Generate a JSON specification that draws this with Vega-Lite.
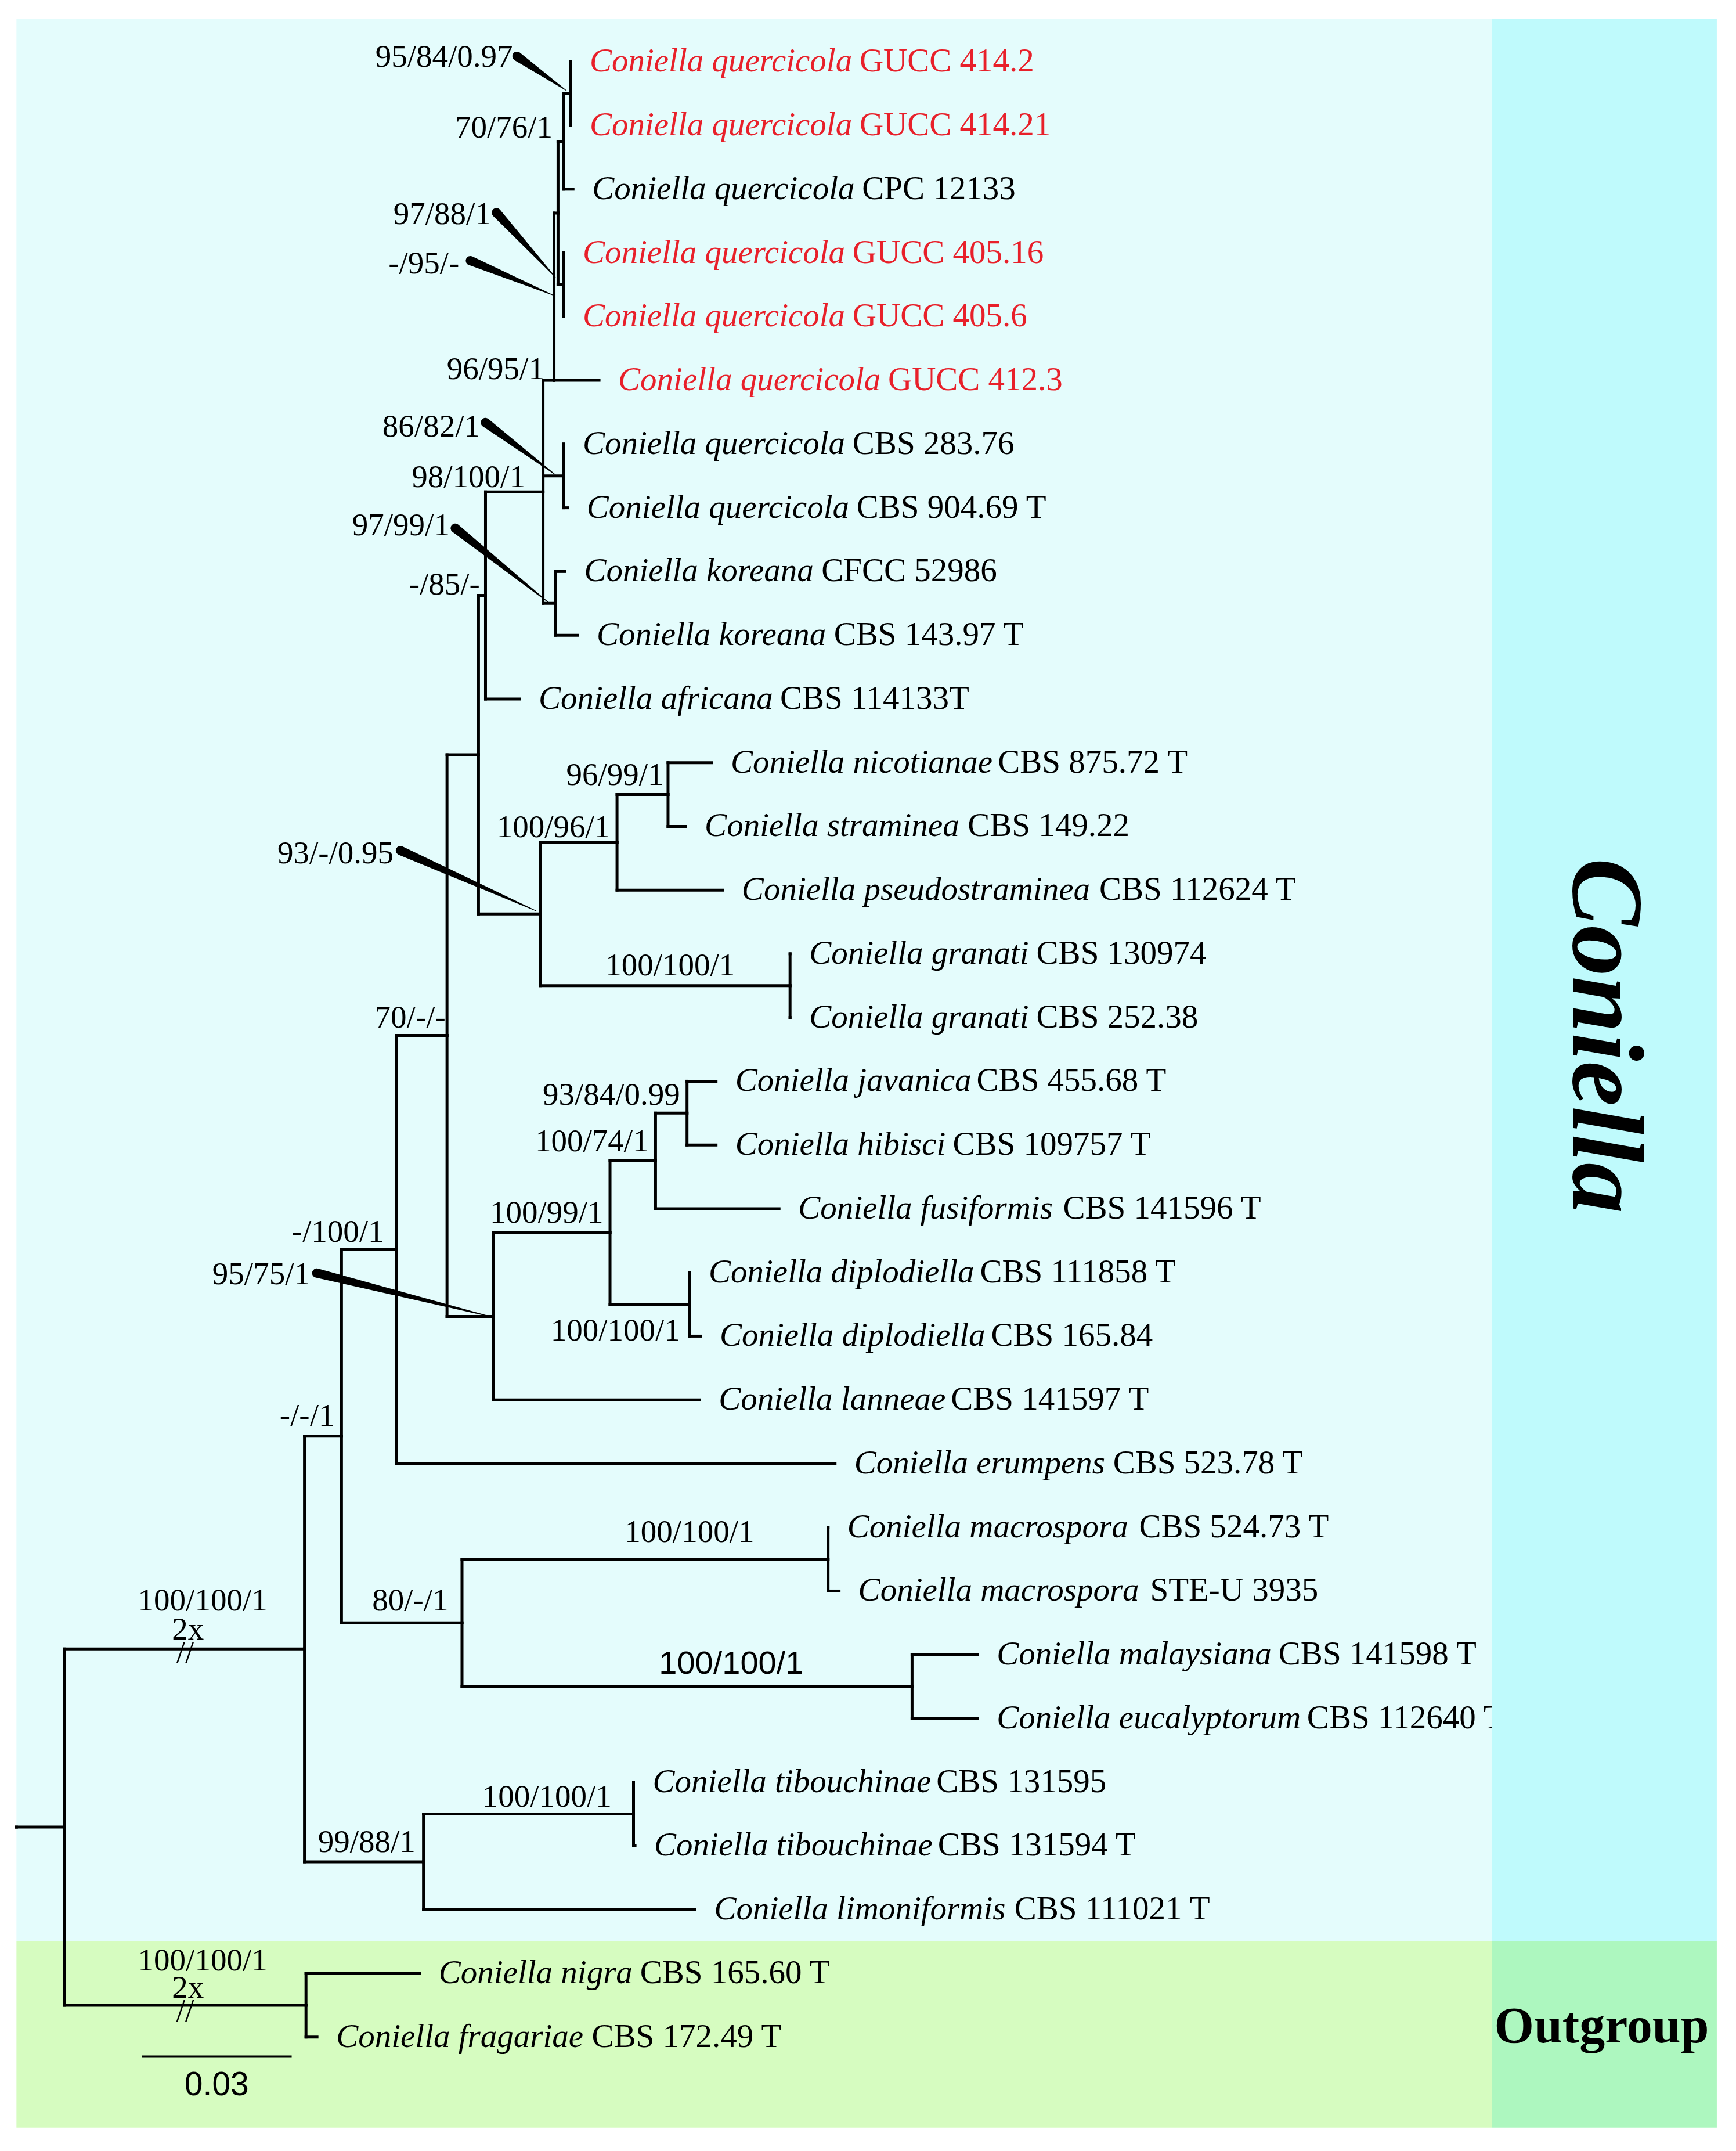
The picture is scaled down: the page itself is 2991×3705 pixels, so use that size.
{
  "$schema": "https://vega.github.io/schema/vega-lite/v6.json",
  "width": 2991,
  "height": 3705,
  "autosize": {"type": "fit", "contains": "padding"},
  "padding": 0,
  "background": "white",
  "config": {"view": {"stroke": null}},
  "datasets": {
    "regions": [
      {"region": "Coniella", "part": "main", "x": 0, "x2": 0.29506, "y": 0.3326, "y2": 30.494},
      {"region": "Coniella", "part": "strip", "x": 0.29506, "x2": 0.34003, "y": 0.3326, "y2": 30.494},
      {"region": "Outgroup", "part": "main", "x": 0, "x2": 0.29506, "y": 30.494, "y2": 33.422},
      {"region": "Outgroup", "part": "strip", "x": 0.29506, "x2": 0.34003, "y": 30.494, "y2": 33.422}
    ],
    "nodes": [
      {"id": "base", "parent": null, "x": 0, "y": 28.705},
      {"id": "root", "parent": "base", "x": 0.0096, "y": 28.705},
      {"id": "Z", "parent": "root", "x": 0.0576, "y": 25.91},
      {"id": "OG", "parent": "root", "x": 0.0579, "y": 31.5},
      {"id": "t31", "parent": "OG", "x": 0.0806, "y": 31, "species": "Coniella nigra", "strain": "CBS 165.60 T", "study": "ref"},
      {"id": "t32", "parent": "OG", "x": 0.0601, "y": 32, "species": "Coniella fragariae", "strain": "CBS 172.49 T", "study": "ref"},
      {"id": "V", "parent": "Z", "x": 0.065, "y": 22.57},
      {"id": "AA", "parent": "Z", "x": 0.0814, "y": 29.25},
      {"id": "AB", "parent": "AA", "x": 0.1234, "y": 28.5},
      {"id": "t28", "parent": "AB", "x": 0.1234, "y": 28, "species": "Coniella tibouchinae", "strain": "CBS 131595", "study": "ref"},
      {"id": "t29", "parent": "AB", "x": 0.1237, "y": 29, "species": "Coniella tibouchinae", "strain": "CBS 131594 T", "study": "ref"},
      {"id": "t30", "parent": "AA", "x": 0.1357, "y": 30, "species": "Coniella limoniformis", "strain": "CBS 111021 T", "study": "ref"},
      {"id": "Q", "parent": "V", "x": 0.076, "y": 19.64},
      {"id": "W", "parent": "V", "x": 0.0891, "y": 25.5},
      {"id": "X", "parent": "W", "x": 0.1623, "y": 24.5},
      {"id": "t24", "parent": "X", "x": 0.1623, "y": 24, "species": "Coniella macrospora", "strain": "CBS 524.73 T", "study": "ref"},
      {"id": "t25", "parent": "X", "x": 0.1645, "y": 25, "species": "Coniella macrospora", "strain": "STE-U 3935", "study": "ref"},
      {"id": "Y", "parent": "W", "x": 0.1791, "y": 26.5},
      {"id": "t26", "parent": "Y", "x": 0.1922, "y": 26, "species": "Coniella malaysiana", "strain": "CBS 141598 T", "study": "ref"},
      {"id": "t27", "parent": "Y", "x": 0.1922, "y": 27, "species": "Coniella eucalyptorum", "strain": "CBS 112640 T", "study": "ref"},
      {"id": "O", "parent": "Q", "x": 0.0861, "y": 16.28},
      {"id": "t23", "parent": "Q", "x": 0.1637, "y": 23, "species": "Coniella erumpens", "strain": "CBS 523.78 T", "study": "ref"},
      {"id": "J", "parent": "O", "x": 0.0924, "y": 11.875},
      {"id": "P", "parent": "O", "x": 0.0954, "y": 20.69},
      {"id": "R2", "parent": "P", "x": 0.1187, "y": 19.375},
      {"id": "t22", "parent": "P", "x": 0.1366, "y": 22, "species": "Coniella lanneae", "strain": "CBS 141597 T", "study": "ref"},
      {"id": "S", "parent": "R2", "x": 0.1278, "y": 18.25},
      {"id": "T", "parent": "R2", "x": 0.1346, "y": 20.5},
      {"id": "U", "parent": "S", "x": 0.1341, "y": 17.5},
      {"id": "t17", "parent": "U", "x": 0.1399, "y": 17, "species": "Coniella javanica", "strain": "CBS 455.68 T", "study": "ref"},
      {"id": "t18", "parent": "U", "x": 0.1399, "y": 18, "species": "Coniella hibisci", "strain": "CBS 109757 T", "study": "ref"},
      {"id": "t19", "parent": "S", "x": 0.1525, "y": 19, "species": "Coniella fusiformis", "strain": "CBS 141596 T", "study": "ref"},
      {"id": "t20", "parent": "T", "x": 0.1346, "y": 20, "species": "Coniella diplodiella", "strain": "CBS 111858 T", "study": "ref"},
      {"id": "t21", "parent": "T", "x": 0.1368, "y": 21, "species": "Coniella diplodiella", "strain": "CBS 165.84", "study": "ref"},
      {"id": "I", "parent": "J", "x": 0.0938, "y": 9.375},
      {"id": "K", "parent": "J", "x": 0.1048, "y": 14.375},
      {"id": "L", "parent": "K", "x": 0.1201, "y": 13.25},
      {"id": "M", "parent": "K", "x": 0.1547, "y": 15.5},
      {"id": "N", "parent": "L", "x": 0.1303, "y": 12.5},
      {"id": "t12", "parent": "N", "x": 0.139, "y": 12, "species": "Coniella nicotianae", "strain": "CBS 875.72 T", "study": "ref"},
      {"id": "t13", "parent": "N", "x": 0.1338, "y": 13, "species": "Coniella straminea", "strain": "CBS 149.22", "study": "ref"},
      {"id": "t14", "parent": "L", "x": 0.1412, "y": 14, "species": "Coniella pseudostraminea", "strain": "CBS 112624 T", "study": "ref"},
      {"id": "t15", "parent": "M", "x": 0.1547, "y": 15, "species": "Coniella granati", "strain": "CBS 130974", "study": "ref"},
      {"id": "t16", "parent": "M", "x": 0.1547, "y": 16, "species": "Coniella granati", "strain": "CBS 252.38", "study": "ref"},
      {"id": "H", "parent": "I", "x": 0.1053, "y": 7.75},
      {"id": "t11", "parent": "I", "x": 0.1006, "y": 11, "species": "Coniella africana", "strain": "CBS 114133T", "study": "ref"},
      {"id": "E", "parent": "H", "x": 0.1075, "y": 6},
      {"id": "F", "parent": "H", "x": 0.1094, "y": 7.5},
      {"id": "G", "parent": "H", "x": 0.1078, "y": 9.5},
      {"id": "D", "parent": "E", "x": 0.1083, "y": 3.375},
      {"id": "t6", "parent": "E", "x": 0.1165, "y": 6, "species": "Coniella quercicola", "strain": "GUCC 412.3", "study": "this"},
      {"id": "B", "parent": "D", "x": 0.1094, "y": 2.25},
      {"id": "C", "parent": "D", "x": 0.1094, "y": 4.5},
      {"id": "A", "parent": "B", "x": 0.1108, "y": 1.5},
      {"id": "t1", "parent": "A", "x": 0.1108, "y": 1, "species": "Coniella quercicola", "strain": "GUCC 414.2", "study": "this"},
      {"id": "t2", "parent": "A", "x": 0.1108, "y": 2, "species": "Coniella quercicola", "strain": "GUCC 414.21", "study": "this"},
      {"id": "t3", "parent": "B", "x": 0.1113, "y": 3, "species": "Coniella quercicola", "strain": "CPC 12133", "study": "ref"},
      {"id": "t4", "parent": "C", "x": 0.1094, "y": 4, "species": "Coniella quercicola", "strain": "GUCC 405.16", "study": "this"},
      {"id": "t5", "parent": "C", "x": 0.1094, "y": 5, "species": "Coniella quercicola", "strain": "GUCC 405.6", "study": "this"},
      {"id": "t7", "parent": "F", "x": 0.1094, "y": 7, "species": "Coniella quercicola", "strain": "CBS 283.76", "study": "ref"},
      {"id": "t8", "parent": "F", "x": 0.1102, "y": 8, "species": "Coniella quercicola", "strain": "CBS 904.69 T", "study": "ref"},
      {"id": "t9", "parent": "G", "x": 0.1097, "y": 9, "species": "Coniella koreana", "strain": "CFCC 52986", "study": "ref"},
      {"id": "t10", "parent": "G", "x": 0.1122, "y": 10, "species": "Coniella koreana", "strain": "CBS 143.97 T", "study": "ref"}
    ],
    "support": [
      {"t": "95/84/0.97", "x": 0.09927, "y": 0.925},
      {"t": "70/76/1", "x": 0.10722, "y": 2.033},
      {"t": "97/88/1", "x": 0.09488, "y": 3.39},
      {"t": "-/95/-", "x": 0.08857, "y": 4.165},
      {"t": "96/95/1", "x": 0.10557, "y": 5.822},
      {"t": "86/82/1", "x": 0.09269, "y": 6.727},
      {"t": "98/100/1", "x": 0.10174, "y": 7.523},
      {"t": "97/99/1", "x": 0.08665, "y": 8.277},
      {"t": "-/85/-", "x": 0.09269, "y": 9.202},
      {"t": "96/99/1", "x": 0.12943, "y": 12.195},
      {"t": "100/96/1", "x": 0.11874, "y": 13.013},
      {"t": "93/-/0.95", "x": 0.07541, "y": 13.422},
      {"t": "100/100/1", "x": 0.14369, "y": 15.187},
      {"t": "70/-/-", "x": 0.08583, "y": 16.006},
      {"t": "93/84/0.99", "x": 0.13272, "y": 17.211},
      {"t": "100/74/1", "x": 0.12642, "y": 17.943},
      {"t": "100/99/1", "x": 0.11737, "y": 19.063},
      {"t": "-/100/1", "x": 0.07349, "y": 19.364},
      {"t": "95/75/1", "x": 0.05868, "y": 20.031},
      {"t": "100/100/1", "x": 0.13272, "y": 20.914},
      {"t": "-/-/1", "x": 0.06362, "y": 22.249},
      {"t": "100/100/1", "x": 0.14753, "y": 24.079},
      {"t": "80/-/1", "x": 0.08638, "y": 25.155},
      {"t": "100/100/1", "x": 0.11901, "y": 28.233},
      {"t": "99/88/1", "x": 0.0798, "y": 28.944},
      {"t": "100/100/1", "x": 0.05018, "y": 25.155},
      {"t": "100/100/1", "x": 0.05018, "y": 30.795}
    ],
    "wedges": [
      {"w": 1, "end": 0, "x": 0.10009, "y": 0.914}, {"w": 1, "end": 1, "x": 0.10996, "y": 1.452},
      {"w": 2, "end": 0, "x": 0.09598, "y": 3.368}, {"w": 2, "end": 1, "x": 0.10777, "y": 4.38},
      {"w": 3, "end": 0, "x": 0.09077, "y": 4.122}, {"w": 3, "end": 1, "x": 0.10722, "y": 4.66},
      {"w": 4, "end": 0, "x": 0.09378, "y": 6.662}, {"w": 4, "end": 1, "x": 0.10777, "y": 7.48},
      {"w": 5, "end": 0, "x": 0.08775, "y": 8.32}, {"w": 5, "end": 1, "x": 0.10667, "y": 9.504},
      {"w": 6, "end": 0, "x": 0.07678, "y": 13.379}, {"w": 6, "end": 1, "x": 0.10393, "y": 14.326},
      {"w": 7, "end": 0, "x": 0.06005, "y": 20.01}, {"w": 7, "end": 1, "x": 0.09515, "y": 20.699}
    ]
  },
  "layer": [
    {
      "data": {"name": "regions"},
      "transform": [{"filter": "datum.part == 'main'"}],
      "mark": {"type": "rect"},
      "encoding": {
        "x": {"field": "x", "type": "quantitative", "scale": {"domain": [-0.00329, 0.34387], "nice": false, "zero": false}, "axis": null},
        "x2": {"field": "x2"},
        "y": {"field": "y", "type": "quantitative", "scale": {"domain": [0.03122, 33.788], "reverse": true, "nice": false, "zero": false}, "axis": null},
        "y2": {"field": "y2"},
        "color": {"field": "region", "type": "nominal", "scale": {"domain": ["Coniella", "Outgroup"], "range": ["#E4FCFC", "#D6FCC0"]}, "legend": null}
      }
    },
    {
      "data": {"name": "nodes"},
      "transform": [
        {"filter": "datum.parent != null"},
        {"lookup": "parent", "from": {"data": {"name": "nodes"}, "key": "id", "fields": ["x", "y"]}, "as": ["px", "py"]}
      ],
      "mark": {"type": "rule", "color": "black", "strokeWidth": 5, "strokeCap": "square"},
      "encoding": {
        "x": {"field": "px", "type": "quantitative", "scale": {"domain": [-0.00329, 0.34387], "nice": false, "zero": false}, "axis": null},
        "x2": {"field": "x"},
        "y": {"field": "y", "type": "quantitative", "scale": {"domain": [0.03122, 33.788], "reverse": true, "nice": false, "zero": false}, "axis": null}
      }
    },
    {
      "data": {"name": "nodes"},
      "transform": [
        {"filter": "datum.parent != null"},
        {"lookup": "parent", "from": {"data": {"name": "nodes"}, "key": "id", "fields": ["x", "y"]}, "as": ["px", "py"]}
      ],
      "mark": {"type": "rule", "color": "black", "strokeWidth": 5, "strokeCap": "square"},
      "encoding": {
        "x": {"field": "px", "type": "quantitative", "scale": {"domain": [-0.00329, 0.34387], "nice": false, "zero": false}, "axis": null},
        "y": {"field": "py", "type": "quantitative", "scale": {"domain": [0.03122, 33.788], "reverse": true, "nice": false, "zero": false}, "axis": null},
        "y2": {"field": "y"}
      }
    },
    {
      "data": {"name": "wedges"},
      "mark": {"type": "trail", "color": "black"},
      "encoding": {
        "x": {"field": "x", "type": "quantitative", "scale": {"domain": [-0.00329, 0.34387], "nice": false, "zero": false}, "axis": null},
        "y": {"field": "y", "type": "quantitative", "scale": {"domain": [0.03122, 33.788], "reverse": true, "nice": false, "zero": false}, "axis": null},
        "detail": {"field": "w", "type": "nominal"},
        "order": {"field": "end", "type": "quantitative"},
        "size": {"field": "end", "type": "quantitative", "scale": {"domain": [0, 1], "range": [16, 1]}, "legend": null}
      }
    },
    {
      "data": {"name": "nodes"},
      "transform": [{"filter": "isValid(datum.species)"}],
      "mark": {"type": "text", "align": "left", "baseline": "middle", "dx": 33, "font": "Liberation Serif", "fontStyle": "italic", "fontSize": 57},
      "encoding": {
        "x": {"field": "x", "type": "quantitative", "scale": {"domain": [-0.00329, 0.34387], "nice": false, "zero": false}, "axis": null},
        "y": {"field": "y", "type": "quantitative", "scale": {"domain": [0.03122, 33.788], "reverse": true, "nice": false, "zero": false}, "axis": null},
        "text": {"field": "species"},
        "color": {"condition": {"test": "datum.study == 'this'", "value": "#E8202A"}, "value": "black"}
      }
    },
    {
      "data": {"name": "nodes"},
      "transform": [
        {"filter": "isValid(datum.species)"},
        {"calculate": "0.5*length(datum.species) - 0.222*(length(datum.species)-length(replace(datum.species, regexp('[iljtf]','g'), ''))) - 0.07*(length(datum.species)-length(replace(datum.species, regexp('[ecksvxyzr]','g'), ''))) - 0.25*(length(datum.species)-length(replace(datum.species, regexp(' ','g'), ''))) + 0.222*(length(datum.species)-length(replace(datum.species, regexp('m','g'), ''))) + 0.167*(length(datum.species)-length(replace(datum.species, regexp('[Cw]','g'), '')))", "as": "wem"},
        {"calculate": "datum.x + (datum.wem + 0.2) * 57 / 8615.7", "as": "sx"}
      ],
      "mark": {"type": "text", "align": "left", "baseline": "middle", "dx": 33, "font": "Liberation Serif", "fontSize": 57},
      "encoding": {
        "x": {"field": "sx", "type": "quantitative", "scale": {"domain": [-0.00329, 0.34387], "nice": false, "zero": false}, "axis": null},
        "y": {"field": "y", "type": "quantitative", "scale": {"domain": [0.03122, 33.788], "reverse": true, "nice": false, "zero": false}, "axis": null},
        "text": {"field": "strain"},
        "color": {"condition": {"test": "datum.study == 'this'", "value": "#E8202A"}, "value": "black"}
      }
    },
    {
      "data": {"name": "support"},
      "mark": {"type": "text", "align": "right", "baseline": "middle", "font": "Liberation Serif", "fontSize": 55, "color": "black"},
      "encoding": {
        "x": {"field": "x", "type": "quantitative", "scale": {"domain": [-0.00329, 0.34387], "nice": false, "zero": false}, "axis": null},
        "y": {"field": "y", "type": "quantitative", "scale": {"domain": [0.03122, 33.788], "reverse": true, "nice": false, "zero": false}, "axis": null},
        "text": {"field": "t"}
      }
    },
    {
      "data": {"values": [{"t": "100/100/1", "x": 0.1574, "y": 26.145}]},
      "mark": {"type": "text", "align": "right", "baseline": "middle", "font": "Liberation Sans", "fontSize": 56, "color": "black"},
      "encoding": {
        "x": {"field": "x", "type": "quantitative", "scale": {"domain": [-0.00329, 0.34387], "nice": false, "zero": false}, "axis": null},
        "y": {"field": "y", "type": "quantitative", "scale": {"domain": [0.03122, 33.788], "reverse": true, "nice": false, "zero": false}, "axis": null},
        "text": {"field": "t"}
      }
    },
    {
      "data": {"values": [
        {"t": "2x", "x": 0.03428, "y": 25.607},
        {"t": "//", "x": 0.03373, "y": 25.973},
        {"t": "2x", "x": 0.03428, "y": 31.226},
        {"t": "//", "x": 0.03373, "y": 31.592}
      ]},
      "mark": {"type": "text", "align": "center", "baseline": "middle", "font": "Liberation Serif", "fontSize": 55, "color": "black"},
      "encoding": {
        "x": {"field": "x", "type": "quantitative", "scale": {"domain": [-0.00329, 0.34387], "nice": false, "zero": false}, "axis": null},
        "y": {"field": "y", "type": "quantitative", "scale": {"domain": [0.03122, 33.788], "reverse": true, "nice": false, "zero": false}, "axis": null},
        "text": {"field": "t"}
      }
    },
    {
      "data": {"values": [{"x": 0.02504, "x2": 0.05504, "y": 32.303, "label": "0.03"}]},
      "mark": {"type": "rule", "color": "black", "strokeWidth": 3},
      "encoding": {
        "x": {"field": "x", "type": "quantitative", "scale": {"domain": [-0.00329, 0.34387], "nice": false, "zero": false}, "axis": null},
        "x2": {"field": "x2"},
        "y": {"field": "y", "type": "quantitative", "scale": {"domain": [0.03122, 33.788], "reverse": true, "nice": false, "zero": false}, "axis": null}
      }
    },
    {
      "data": {"values": [{"x": 0.02504, "x2": 0.05504, "y": 32.303, "label": "0.03"}]},
      "transform": [{"calculate": "(datum.x + datum.x2) / 2", "as": "mx"}],
      "mark": {"type": "text", "align": "center", "baseline": "middle", "dy": 50, "font": "Liberation Sans", "fontSize": 57, "color": "black"},
      "encoding": {
        "x": {"field": "mx", "type": "quantitative", "scale": {"domain": [-0.00329, 0.34387], "nice": false, "zero": false}, "axis": null},
        "y": {"field": "y", "type": "quantitative", "scale": {"domain": [0.03122, 33.788], "reverse": true, "nice": false, "zero": false}, "axis": null},
        "text": {"field": "label"}
      }
    },
    {
      "data": {"name": "regions"},
      "transform": [{"filter": "datum.part == 'strip'"}],
      "mark": {"type": "rect"},
      "encoding": {
        "x": {"field": "x", "type": "quantitative", "scale": {"domain": [-0.00329, 0.34387], "nice": false, "zero": false}, "axis": null},
        "x2": {"field": "x2"},
        "y": {"field": "y", "type": "quantitative", "scale": {"domain": [0.03122, 33.788], "reverse": true, "nice": false, "zero": false}, "axis": null},
        "y2": {"field": "y2"},
        "fill": {"field": "region", "type": "nominal", "scale": {"domain": ["Coniella", "Outgroup"], "range": ["#BFFAFC", "#ADF7BF"]}, "legend": null}
      }
    },
    {
      "data": {"values": [{"t": "Coniella", "x": 0.31755, "y": 16.285}]},
      "mark": {"type": "text", "align": "center", "baseline": "middle", "angle": 90, "font": "Liberation Serif", "fontStyle": "italic", "fontWeight": "bold", "fontSize": 175, "color": "black"},
      "encoding": {
        "x": {"field": "x", "type": "quantitative", "scale": {"domain": [-0.00329, 0.34387], "nice": false, "zero": false}, "axis": null},
        "y": {"field": "y", "type": "quantitative", "scale": {"domain": [0.03122, 33.788], "reverse": true, "nice": false, "zero": false}, "axis": null},
        "text": {"field": "t"}
      }
    },
    {
      "data": {"values": [{"t": "Outgroup", "x": 0.317, "y": 31.85}]},
      "mark": {"type": "text", "align": "center", "baseline": "middle", "font": "Liberation Serif", "fontWeight": "bold", "fontSize": 88, "color": "black"},
      "encoding": {
        "x": {"field": "x", "type": "quantitative", "scale": {"domain": [-0.00329, 0.34387], "nice": false, "zero": false}, "axis": null},
        "y": {"field": "y", "type": "quantitative", "scale": {"domain": [0.03122, 33.788], "reverse": true, "nice": false, "zero": false}, "axis": null},
        "text": {"field": "t"}
      }
    }
  ]
}
